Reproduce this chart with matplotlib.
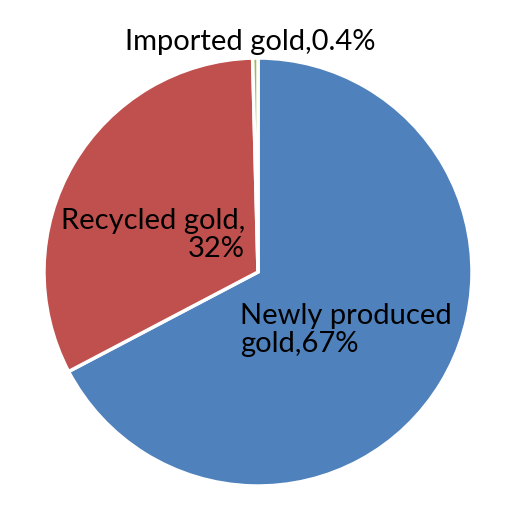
import matplotlib
matplotlib.use("Agg")
import matplotlib.pyplot as plt

# data
labels = ["Newly produced\ngold,67%", "Recycled gold,\n32%", "Imported gold,0.4%"]
shares = [67.3, 32.3, 0.4]
colors = ["#4F81BD", "#C0504D", "#9BBB59"]

W, H = 514, 512
cx, cy, R = 258, 272, 214

def px(x, y):
    # pixel position -> data coords (pie radius = 1)
    return (x - cx) / R, (cy - y) / R

fig = plt.figure(figsize=(W / 100, H / 100), dpi=100)
ax = fig.add_axes([0, 0, 1, 1])
ax.pie(shares, colors=colors, startangle=90, counterclock=False,
       wedgeprops=dict(edgecolor="white", linewidth=2.5))
ax.set_aspect("auto")
ax.set_xlim(-cx / R, (W - cx) / R)
ax.set_ylim(-(H - cy) / R, cy / R)
ax.axis("off")

font = dict(family=["Lato", "DejaVu Sans"], fontsize=21, color="black")
ax.text(*px(250, 42), labels[2], ha="center", va="center", **font)
ax.text(*px(245, 235), labels[1], ha="right", va="center", linespacing=1.12, **font)
ax.text(*px(240, 330), labels[0], ha="left", va="center", linespacing=1.12, **font)

fig.savefig("out.png", dpi=100)
